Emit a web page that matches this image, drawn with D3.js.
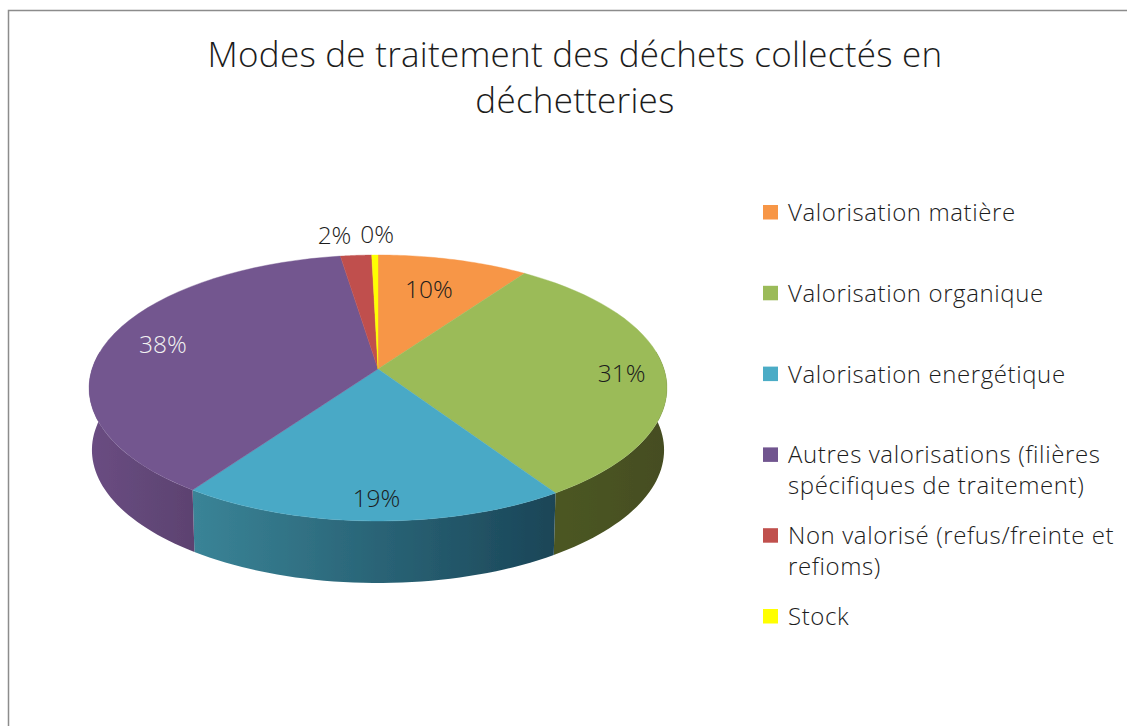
<!DOCTYPE html>
<html><head><meta charset="utf-8">
<script src="https://cdn.jsdelivr.net/npm/d3@7"></script>
<style>html,body{margin:0;background:#fff}svg{display:block}text{font-family:"Open Sans",sans-serif;font-weight:300;fill:#1c1c1c}</style>
</head><body><svg id="c" width="1127" height="726"></svg>
<script>
const categories=["Valorisation matière","Valorisation organique","Valorisation energétique","Autres valorisations (filières spécifiques de traitement)","Non valorisé (refus/freinte et refioms)","Stock"];
const legendLines=[["Valorisation matière"],["Valorisation organique"],["Valorisation energétique"],["Autres valorisations (filières","spécifiques de traitement)"],["Non valorisé (refus/freinte et","refioms)"],["Stock"]];
const values=[9.7,31.1,18.9,37.9,2.0,0.4];
const colors=["#f79646","#9bbb59","#4aa9c6","#73578f","#c0504d","#ffff00"];
const legendColors=["#f79646","#9bbb59","#4bacc6","#71558f","#c0504d","#ffff00"];
const sideFrom=["#b86a28","#4c5724","#3a8497","#6a4d82","#8a3533","#b0b000"];
const sideTo=["#a35a1c","#454d20","#1a4557","#5c4270","#7a2c2a","#909000"];
const titleLines=["Modes de traitement des déchets collectés en","déchetteries"];
const labelRadius=[0.7,0.85,0.875,0.8,1.24,1.24];
const labelNudge=[[-4,0],[0,3],[3,-1],[2,-1],[-17,3],[3,3]];

const svg=d3.select("#c");
const cx=378,cy=369,A=286,B=130.3,k=1/7,depth=62,shrink=0.99;
const project=(a,r=1)=>{const u=Math.sin(a)*r,v=-Math.cos(a)*r,w=1-k*v;return [cx+A*u/w,cy+B*v/w];};
const bottom=(a)=>{const p=project(a);return [cx+(p[0]-cx)*shrink,p[1]+depth];};
const line=d3.line();
const arcs=d3.pie().sort(null).value(d=>d)(values);
const samples=(s,e)=>d3.range(0,41).map(i=>s+(e-s)*i/40);

svg.append("path").attr("d",line([[1127,10.5],[8.5,10.5],[8.5,726]])).attr("fill","none").attr("stroke","#8c8c8c").attr("stroke-width",1.5);

const defs=svg.append("defs");
const blur=defs.append("filter").attr("id","soft");blur.append("feGaussianBlur").attr("stdDeviation",0.6);

const pie=svg.append("g").attr("filter","url(#soft)");
// side walls: only the front half of the disc shows
arcs.forEach((d,i)=>{
  const s=Math.max(d.startAngle,Math.PI/2-0.14),e=Math.min(d.endAngle,3*Math.PI/2+0.14);
  if(e<=s)return;
  const top=samples(s,e);
  const pts=top.map(a=>project(a)).concat(top.slice().reverse().map(bottom));
  const xs=pts.map(p=>p[0]);
  const g=defs.append("linearGradient").attr("id","side"+i).attr("gradientUnits","userSpaceOnUse")
    .attr("x1",d3.min(xs)).attr("x2",d3.max(xs)).attr("y1",0).attr("y2",0);
  g.append("stop").attr("offset",0).attr("stop-color",sideFrom[i]);
  g.append("stop").attr("offset",1).attr("stop-color",sideTo[i]);
  pie.append("path").attr("d",line(pts)+"Z").attr("fill",`url(#side${i})`);
});
// top face
arcs.forEach((d,i)=>{
  const pts=[[cx,cy]].concat(samples(d.startAngle,d.endAngle).map(a=>project(a)));
  pie.append("path").attr("d",line(pts)+"Z").attr("fill",colors[i]).attr("stroke",colors[i]).attr("stroke-width",0.4);
});

// data labels
arcs.forEach((d,i)=>{
  const p=project((d.startAngle+d.endAngle)/2,labelRadius[i]);
  svg.append("text").attr("x",p[0]+labelNudge[i][0]).attr("y",p[1]+labelNudge[i][1]).attr("dy","0.35em")
    .attr("text-anchor","middle").attr("font-size",24.5)
    .style("fill",i===3?"#f2f2f2":"#1c1c1c").text(Math.round(values[i])+"%");
});

// title
titleLines.forEach((t,i)=>svg.append("text").attr("x",575).attr("y",67+i*46).attr("text-anchor","middle")
  .attr("font-size",35).attr("letter-spacing",0.25).text(t));

// legend
const legendY=d3.scalePoint().domain(categories).range([212,616]);
const lineGap=31;
categories.forEach((c,i)=>{
  const y=legendY(c);
  svg.append("rect").attr("x",763).attr("y",y-7).attr("width",15).attr("height",14.5).attr("fill",legendColors[i]);
  legendLines[i].forEach((t,j)=>svg.append("text").attr("x",788).attr("y",y+9+j*lineGap).attr("font-size",24).attr("letter-spacing",0.6).text(t));
});
</script></body></html>
